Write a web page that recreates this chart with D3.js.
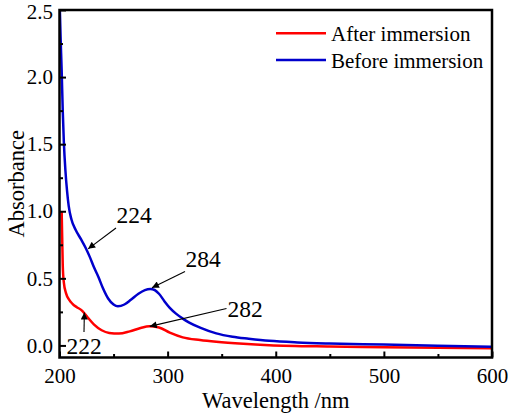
<!DOCTYPE html>
<html>
<head>
<meta charset="utf-8">
<script src="https://cdn.jsdelivr.net/npm/d3@7"></script>
<style>
  html, body { margin: 0; padding: 0; background: #fff; }
  svg { display: block; }
  svg text { font-family: "Liberation Serif", "Times New Roman", serif; fill: #000; }
</style>
</head>
<body>
<svg id="chart" width="508" height="416"></svg>
<script>
// ---- Data ----
const afterWavelength = [202, 202.5, 203, 204, 206, 209, 212, 216, 220, 223, 227, 232, 239, 246, 255, 265, 275, 283, 292, 302, 314, 330, 345, 370, 394, 450, 500, 550, 600];
const afterAbsorbance = [1.0, 0.8, 0.6, 0.47, 0.39, 0.34, 0.31, 0.285, 0.265, 0.24, 0.2, 0.155, 0.113, 0.093, 0.088, 0.105, 0.13, 0.143, 0.134, 0.095, 0.06, 0.04, 0.027, 0.012, 0.002, -0.008, -0.013, -0.017, -0.022];

const beforeWavelength = [200, 201, 202, 203, 204, 205.5, 207, 208.5, 211, 215, 220, 224, 228, 232, 236, 240, 245, 250, 254, 260, 266, 273, 279, 284, 288, 292, 297, 302, 308, 314, 320, 330, 345, 360, 375, 394, 420, 450, 500, 550, 600];
const beforeAbsorbance = [2.6, 2.3, 2.05, 1.75, 1.52, 1.3, 1.15, 1.04, 0.94, 0.86, 0.79, 0.73, 0.66, 0.58, 0.51, 0.43, 0.35, 0.305, 0.292, 0.305, 0.34, 0.385, 0.412, 0.42, 0.413, 0.385, 0.33, 0.28, 0.235, 0.2, 0.17, 0.133, 0.09, 0.065, 0.05, 0.034, 0.022, 0.014, 0.006, -0.002, -0.01];

const seriesNames = ["After immersion", "Before immersion"];
const seriesColors = ["#ff0000", "#0000cc"];

const xTicks = [200, 300, 400, 500, 600];
const xMinorTicks = [250, 350, 450, 550];
const yTicks = [0.0, 0.5, 1.0, 1.5, 2.0, 2.5];
const yMinorTicks = [0.25, 0.75, 1.25, 1.75, 2.25];

// annotations: label, peak point [wl, abs], label position, arrow start
const annotations = [
  { label: "224", at: [226.5, 0.72], text: [134, 223], from: [116, 228] },
  { label: "284", at: [285.5, 0.43], text: [203, 267], from: [185, 271.5] },
  { label: "282", at: [283.5, 0.142], text: [245, 316.5], from: [226.5, 308.5] },
  { label: "222", at: [223, 0.245], text: [84, 354], from: [84, 332] }
];

// ---- Layout ----
const FONT = '"Liberation Serif", "Times New Roman", serif';
const svg = d3.select("#chart");
const x = d3.scaleLinear().domain([200, 600]).range([59.5, 492]);
const y = d3.scaleLinear().domain([-0.09, 2.5]).range([357.5, 10]);

svg.append("defs").append("clipPath").attr("id", "plotclip")
  .append("rect").attr("x", x(200)).attr("y", y(2.5))
  .attr("width", x(600) - x(200)).attr("height", y(-0.09) - y(2.5));

const marker = svg.select("defs").append("marker")
  .attr("id", "arrow").attr("viewBox", "0 0 10 10")
  .attr("refX", 10).attr("refY", 5)
  .attr("markerWidth", 9).attr("markerHeight", 7)
  .attr("markerUnits", "userSpaceOnUse")
  .attr("orient", "auto");
marker.append("path").attr("d", "M0,0 L10,5 L0,10 Z").attr("fill", "#000");

// curves
const line = d3.line().x(d => x(d[0])).y(d => y(d[1])).curve(d3.curveMonotoneX);
const after = afterWavelength.map((w, i) => [w, afterAbsorbance[i]]);
const before = beforeWavelength.map((w, i) => [w, beforeAbsorbance[i]]);
const g = svg.append("g").attr("clip-path", "url(#plotclip)");
g.append("path").datum(after).attr("d", line)
  .attr("fill", "none").attr("stroke", seriesColors[0]).attr("stroke-width", 2.5);
g.append("path").datum(before).attr("d", line)
  .attr("fill", "none").attr("stroke", seriesColors[1]).attr("stroke-width", 2.5);

// axes
const fontTick = "21px";
const xAxis = svg.append("g").attr("transform", `translate(0,${y(-0.09)})`)
  .call(d3.axisBottom(x).tickValues(xTicks).tickSize(-6).tickPadding(10.5).tickFormat(d3.format("d")));
const xMinor = svg.append("g").attr("transform", `translate(0,${y(-0.09)})`)
  .call(d3.axisBottom(x).tickValues(xMinorTicks).tickSize(-3.5).tickFormat(""));
const yAxis = svg.append("g").attr("transform", `translate(${x(200)},0)`)
  .call(d3.axisLeft(y).tickValues(yTicks).tickSize(-6.5).tickPadding(6.5).tickFormat(d3.format(".1f")));
const yMinor = svg.append("g").attr("transform", `translate(${x(200)},0)`)
  .call(d3.axisLeft(y).tickValues(yMinorTicks).tickSize(-3.5).tickFormat(""));

[xAxis, xMinor, yAxis, yMinor].forEach(a => {
  a.attr("font-family", null).attr("font-size", null);
  a.select(".domain").remove();
  a.selectAll(".tick line").attr("stroke", "#000").attr("stroke-width", 2);
  a.selectAll(".tick text").style("font-size", fontTick).style("font-family", FONT).attr("fill", "#000");
});
// keep top label fully inside the canvas
yAxis.selectAll(".tick text").filter(d => d === 2.5).attr("dy", "0.42em");

// frame
svg.append("rect").attr("x", x(200)).attr("y", y(2.5))
  .attr("width", x(600) - x(200)).attr("height", y(-0.09) - y(2.5))
  .attr("fill", "none").attr("stroke", "#000").attr("stroke-width", 2.5);

// axis titles
svg.append("text").attr("x", (x(200) + x(600)) / 2).attr("y", 408)
  .attr("text-anchor", "middle").style("font-size", "22.5px").style("font-family", FONT).text("Wavelength /nm");
svg.append("text").attr("transform", `translate(24,${(y(2.5) + y(-0.09)) / 2}) rotate(-90)`)
  .attr("text-anchor", "middle").style("font-size", "22.5px").style("font-family", FONT).text("Absorbance");

// legend
const legendY = [33.3, 60];
const legendBase = [40.8, 67.5];
seriesNames.forEach((name, i) => {
  svg.append("line").attr("x1", 276).attr("x2", 326).attr("y1", legendY[i]).attr("y2", legendY[i])
    .attr("stroke", seriesColors[i]).attr("stroke-width", 2.5);
  svg.append("text").attr("x", 331).attr("y", legendBase[i]).style("font-size", "21px").style("font-family", FONT).text(name);
});

// annotations
annotations.forEach(a => {
  svg.append("line").attr("x1", a.from[0]).attr("y1", a.from[1])
    .attr("x2", x(a.at[0])).attr("y2", y(a.at[1]))
    .attr("stroke", "#000").attr("stroke-width", 1.1).attr("marker-end", "url(#arrow)");
  svg.append("text").attr("x", a.text[0]).attr("y", a.text[1])
    .attr("text-anchor", "middle").style("font-size", "23.5px").style("font-family", FONT).text(a.label);
});
</script>
</body>
</html>
